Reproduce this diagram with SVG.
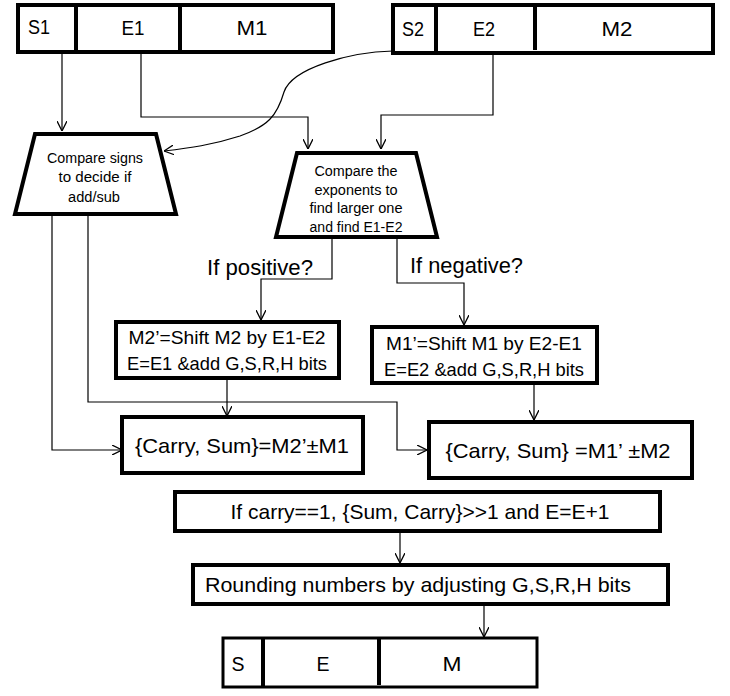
<svg xmlns="http://www.w3.org/2000/svg" width="730" height="696" viewBox="0 0 730 696">
<defs>
<marker id="arr" viewBox="0 0 10 10" refX="10" refY="5" markerWidth="10" markerHeight="10" markerUnits="userSpaceOnUse" orient="auto">
<polyline points="0,0 10,5 0,10" fill="none" stroke="#000" stroke-width="1.3"/>
</marker>
</defs>
<style>
.box{fill:#fff;stroke:#000;stroke-width:4}
.thin{fill:#fff;stroke:#000;stroke-width:3}
.div{stroke:#000;stroke-width:4}
.c{fill:none;stroke:#000;stroke-width:1.2;marker-end:url(#arr)}
text{font-family:"Liberation Sans",Arial,sans-serif;fill:#000;text-anchor:middle}
.lbl{font-size:20px}
.sm{font-size:14px}
.md{font-size:19px}
.lg{font-size:21px}
.q{font-size:22px;text-anchor:start}
</style>
<rect width="730" height="696" fill="#fff"/>
<g id="connectors">
<path class="c" d="M62,52 V131"/>
<path class="c" d="M141,52 V117 H308 V149"/>
<path class="c" d="M493,53 V115 H381 V149"/>
<path class="c" d="M393,51 C350,52 292,68 284,92 C277,116 268,126 240,136 C212,145 190,148 164,151"/>
<path class="c" d="M332,237 V279 H261 V320"/>
<path class="c" d="M397,237 V283 H464 V325"/>
<path class="c" d="M52,214 V450 H122"/>
<path class="c" d="M88,214 V402 H397 V450 H427"/>
<path class="c" d="M227,378 V416"/>
<path class="c" d="M534,383 V420"/>
<path class="c" d="M400,531 V563"/>
<path class="c" d="M484,604 V637"/>
</g>
<g id="word1">
<rect class="box" x="18" y="5" width="315" height="47"/>
<line class="div" x1="76" y1="5" x2="76" y2="50"/>
<line class="div" x1="180" y1="5" x2="180" y2="52"/>
<text class="lbl" x="39" y="34" textLength="22" lengthAdjust="spacingAndGlyphs">S1</text>
<text class="lbl" x="133" y="35" textLength="23" lengthAdjust="spacingAndGlyphs">E1</text>
<text class="lbl" x="252" y="35" textLength="31" lengthAdjust="spacingAndGlyphs">M1</text>
</g>
<g id="word2">
<rect class="box" x="393" y="5" width="320" height="48"/>
<line class="div" x1="436" y1="5" x2="436" y2="53"/>
<line class="div" x1="535" y1="3" x2="535" y2="50"/>
<text class="lbl" x="413" y="36" textLength="22" lengthAdjust="spacingAndGlyphs">S2</text>
<text class="lbl" x="484" y="36" textLength="22" lengthAdjust="spacingAndGlyphs">E2</text>
<text class="lbl" x="617" y="36" textLength="31" lengthAdjust="spacingAndGlyphs">M2</text>
</g>
<g id="signs">
<polygon class="box" points="35,134 156,134 176,214 15,214"/>
<text class="sm" x="95" y="163" textLength="96" lengthAdjust="spacingAndGlyphs">Compare signs</text>
<text class="sm" x="95" y="182" textLength="73" lengthAdjust="spacingAndGlyphs">to decide if</text>
<text class="sm" x="94" y="202" textLength="52" lengthAdjust="spacingAndGlyphs">add/sub</text>
</g>
<g id="exponents">
<polygon class="box" points="297,153 416,153 437,237 276,237"/>
<text class="sm" x="356" y="176" textLength="83" lengthAdjust="spacingAndGlyphs">Compare the</text>
<text class="sm" x="356" y="195" textLength="83" lengthAdjust="spacingAndGlyphs">exponents to</text>
<text class="sm" x="356" y="213" textLength="93" lengthAdjust="spacingAndGlyphs">find larger one</text>
<text class="sm" x="356" y="232" textLength="93" lengthAdjust="spacingAndGlyphs">and find E1-E2</text>
</g>
<text class="q" x="207" y="275" textLength="106" lengthAdjust="spacingAndGlyphs">If positive?</text>
<text class="q" x="410" y="273" textLength="113" lengthAdjust="spacingAndGlyphs">If negative?</text>
<g id="shift2">
<rect class="box" x="116" y="322" width="223" height="56"/>
<text class="md" x="227" y="344" textLength="197" lengthAdjust="spacingAndGlyphs">M2’=Shift M2 by E1-E2</text>
<text class="md" x="227" y="370" textLength="200" lengthAdjust="spacingAndGlyphs">E=E1 &amp;add G,S,R,H bits</text>
</g>
<g id="shift1">
<rect class="box" x="372" y="327" width="225" height="56"/>
<text class="md" x="484" y="350" textLength="196" lengthAdjust="spacingAndGlyphs">M1’=Shift M1 by E2-E1</text>
<text class="md" x="484" y="376" textLength="200" lengthAdjust="spacingAndGlyphs">E=E2 &amp;add G,S,R,H bits</text>
</g>
<g id="sum1">
<rect class="box" x="122" y="417" width="241" height="56"/>
<text class="lg" x="242" y="453" textLength="214" lengthAdjust="spacingAndGlyphs">{Carry, Sum}=M2’±M1</text>
</g>
<g id="sum2">
<rect class="box" x="429" y="422" width="263" height="56"/>
<text class="lg" x="558" y="458" textLength="225" lengthAdjust="spacingAndGlyphs">{Carry, Sum} =M1’ ±M2</text>
</g>
<g id="carry">
<rect class="box" x="175" y="492" width="485" height="39"/>
<text class="lg" x="420" y="519" textLength="379" lengthAdjust="spacingAndGlyphs">If carry==1, {Sum, Carry}&gt;&gt;1 and E=E+1</text>
</g>
<g id="round">
<rect class="box" x="193" y="565" width="475" height="39"/>
<text class="lg" x="418" y="592" textLength="426" lengthAdjust="spacingAndGlyphs">Rounding numbers by adjusting G,S,R,H bits</text>
</g>
<g id="result">
<rect class="thin" x="223" y="638" width="314" height="49"/>
<line class="div" x1="263" y1="638" x2="263" y2="687"/>
<line class="div" x1="379" y1="638" x2="379" y2="685"/>
<text class="lbl" x="238" y="671" textLength="13" lengthAdjust="spacingAndGlyphs">S</text>
<text class="lbl" x="323" y="671" textLength="13" lengthAdjust="spacingAndGlyphs">E</text>
<text class="lbl" x="452" y="671" textLength="19" lengthAdjust="spacingAndGlyphs">M</text>
</g>
</svg>
